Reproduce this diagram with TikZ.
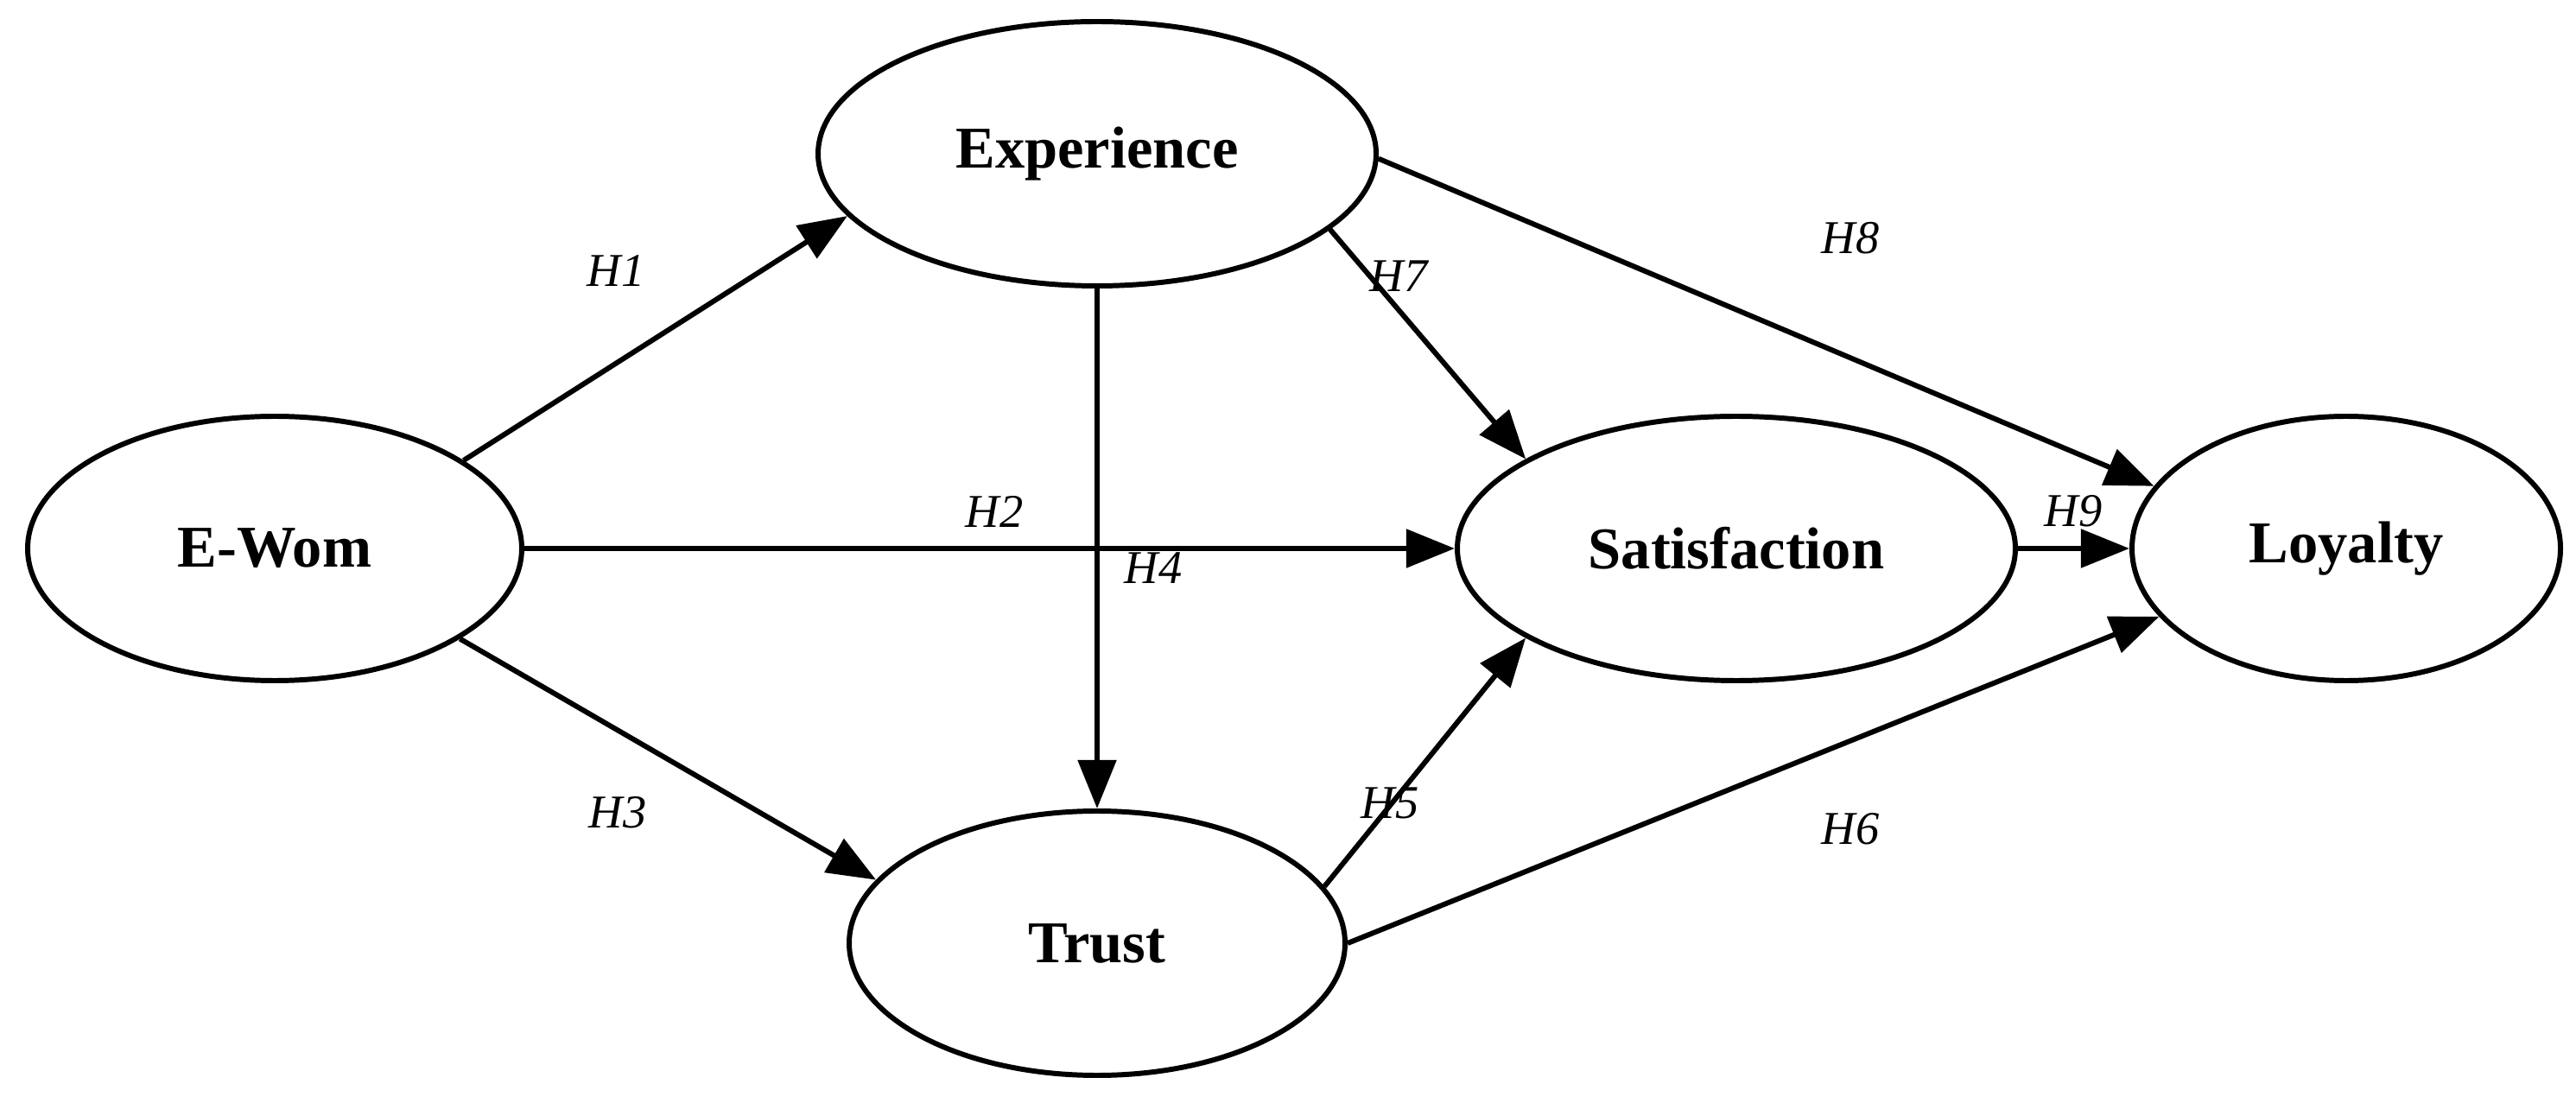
\documentclass[tikz,border=0pt]{standalone}
\usepackage{fontspec}
\setmainfont{Liberation Serif}
\usetikzlibrary{
    arrows.meta,
    shapes.geometric
}
\tikzset{
    construct/.style={draw, ellipse, line width=1.7pt, inner sep=0pt,
        minimum height=3.06cm, font=\fontsize{19.5}{23}\selectfont\bfseries},
    hpath/.style={-{Triangle[length=16pt,width=12.5pt]}, line width=1.7pt},
    hyp/.style={font=\fontsize{15.5}{18}\selectfont\itshape, inner sep=0pt},
}

\begin{document}
\begin{tikzpicture}
    \useasboundingbox (0,0) rectangle (29.82,-12.77);
    % constructs
    \node[construct, minimum width=5.72cm] (ewom)  at (3.18,-6.35)  {E-Wom};
    \node[construct, minimum width=6.46cm] (exper) at (12.70,-1.78) {Experience};
    \node[construct, minimum width=5.74cm] (trust) at (12.70,-10.92) {Trust};
    \node[construct, minimum width=6.46cm] (satis) at (20.10,-6.35) {Satisfaction};
    \node[construct, minimum width=4.96cm] (loyal) at (27.16,-6.35) {Loyalty};
    % paths
    \draw[hpath] (ewom.25) -- (exper.194);
    \draw[hpath] (ewom) -- (satis);
    \draw[hpath] (ewom.-26) -- (trust.164);
    \draw[hpath] (exper) -- (trust);
    \draw[hpath] (trust.14) -- (satis.203);
    \draw[hpath] (trust.0) -- (loyal.200);
    \draw[hpath] (exper.-18) -- (satis.157);
    \draw[hpath] (exper.-1) -- (loyal.162);
    \draw[hpath] (satis) -- (loyal);
    % hypotheses
    \node[hyp] (h1) at (7.13,-3.14)  {H1};
    \node[hyp] (h2) at (11.51,-5.92) {H2};
    \node[hyp] (h3) at (7.15,-9.41)  {H3};
    \node[hyp] (h4) at (13.35,-6.58) {H4};
    \node[hyp] (h5) at (16.09,-9.30) {H5};
    \node[hyp] (h6) at (21.42,-9.60) {H6};
    \node[hyp] (h7) at (16.19,-3.20) {H7};
    \node[hyp] (h8) at (21.42,-2.76) {H8};
    \node[hyp] (h9) at (24.00,-5.92) {H9};
\end{tikzpicture}
\end{document}
